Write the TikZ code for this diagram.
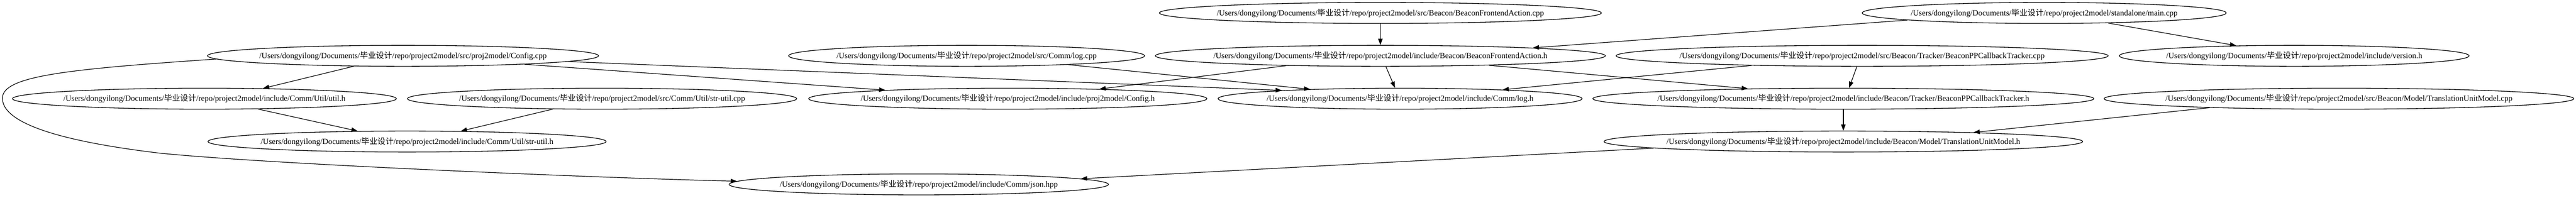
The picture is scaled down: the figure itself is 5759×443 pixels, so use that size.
\documentclass[tikz,border=0pt]{standalone}
\usepackage{fontspec}
\setmainfont{Liberation Serif}
\newfontfamily\cjkf{Noto Sans CJK SC}
\usetikzlibrary{arrows.meta,shapes.geometric}
\newcommand\prepath{/Users/dongyilong/Documents/{\cjkf 毕业设计}/repo/project2model/}
\tikzset{
  fnode/.style={draw, ellipse, inner sep=0pt, minimum height=47bp, line width=1.5bp,
    font=\fontsize{18bp}{20bp}\selectfont},
  edge/.style={line width=1.4bp, -{Triangle[length=14bp,width=10bp]}},
}
\newcommand\fn[5]{\node[fnode, minimum width=#4] (#1) at (#2,#3) {\makebox[0pt]{\prepath #5}};}
\begin{document}
\begin{tikzpicture}[x=1bp,y=1bp]
\useasboundingbox (0,0) rectangle (5759,443);
\fn{cfgcpp}{901}{318}{874bp}{src/proj2model/Config.cpp}
\fn{logcpp}{2161}{318}{796bp}{src/Comm/log.cpp}
\fn{bfacpp}{3086}{414}{988bp}{src/Beacon/BeaconFrontendAction.cpp}
\fn{bfah}{3086}{318}{1006bp}{include/Beacon/BeaconFrontendAction.h}
\fn{maincpp}{4570}{414}{814bp}{standalone/main.cpp}
\fn{bppcpp}{4163}{318}{1100bp}{src/Beacon/Tracker/BeaconPPCallbackTracker.cpp}
\fn{version}{5129}{318}{782bp}{include/version.h}
\fn{utilh}{457}{222}{858bp}{include/Comm/Util/util.h}
\fn{strutilcpp}{1346}{222}{870bp}{src/Comm/Util/str-util.cpp}
\fn{cfgh}{2253}{222}{890bp}{include/proj2model/Config.h}
\fn{logh}{3130}{222}{814bp}{include/Comm/log.h}
\fn{bpph}{4121}{222}{1120bp}{include/Beacon/Tracker/BeaconPPCallbackTracker.h}
\fn{tumcpp}{5229}{222}{1050bp}{src/Beacon/Model/TranslationUnitModel.cpp}
\fn{strutilh}{910}{126}{890bp}{include/Comm/Util/str-util.h}
\fn{tumh}{4121}{126}{1070bp}{include/Beacon/Model/TranslationUnitModel.h}
\fn{json}{2054}{30}{848bp}{include/Comm/json.hpp}

\draw[edge] (cfgcpp.192.1) -- (utilh.10.9);
\draw[edge] (cfgcpp.-4.0) -- (cfgh.176.1);
\draw[edge] (cfgcpp.-2.1) -- (logh.176.7);
\draw[edge] (cfgcpp.181.2) .. controls (150,288) and (5.4,273) .. (5.4,223)
  .. controls (5.4,153) and (207,118) .. (357,100)
  .. controls (607,75) and (1328,45) .. (json.179.5);
\draw[edge] (utilh.-11.7) -- (strutilh.168.9);
\draw[edge] (strutilcpp.192.1) -- (strutilh.11.5);
\draw[edge] (logcpp.-5.7) -- (logh.174.6);
\draw[edge] (bfah.186.4) -- (cfgh.6.5);
\draw[edge] (bfacpp.south) -- (bfah.north);
\draw[edge] (maincpp.183.7) -- (bfah.3.7);
\draw[edge] (maincpp.-9.6) -- (version.170.6);
\draw[edge] (bfah.-63.7) -- (logh.115.7);
\draw[edge] (bfah.-5.25) -- (bpph.174.8);
\draw[edge] (bppcpp.185.3) -- (logh.5.2);
\draw[edge] (bppcpp.244.5) -- (bpph.62.2);
\draw[edge] (bpph.south) -- (tumh.north);
\draw[edge] (tumcpp.184.9) -- (tumh.4.9);
\draw[edge] (tumh.182.6) -- (json.2.6);
\end{tikzpicture}
\end{document}
